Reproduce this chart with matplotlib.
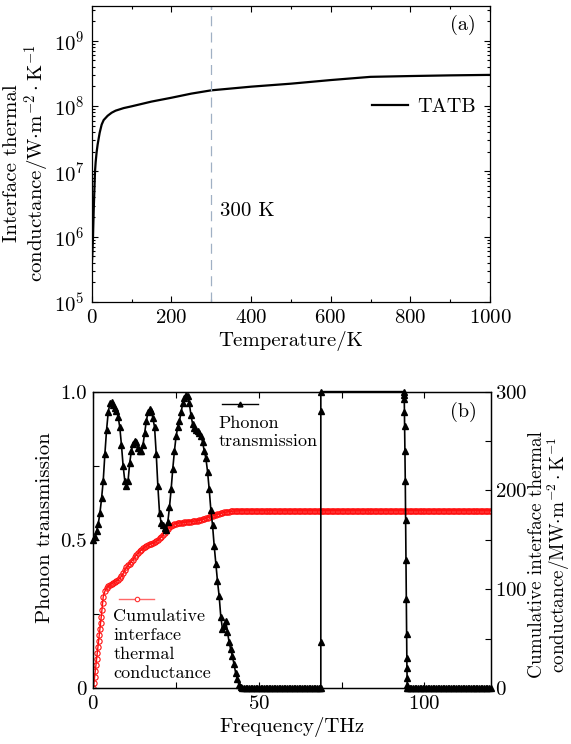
import numpy as np
import matplotlib
matplotlib.use("Agg")
import matplotlib.pyplot as plt
from matplotlib.ticker import LogLocator, MultipleLocator, NullFormatter

plt.rcParams['font.family'] = ['cmr10', 'DejaVu Serif']
plt.rcParams['mathtext.fontset'] = 'cm'
plt.rcParams['axes.unicode_minus'] = False
plt.rcParams['axes.formatter.use_mathtext'] = True
plt.rcParams['font.size'] = 15

# (a) interface thermal conductance vs temperature
temp = [0, 1, 2, 3.3, 5, 8.3, 10, 12.5, 15, 20, 25, 30, 40, 50, 60, 80, 100,
        150, 200, 250, 300, 400, 500, 600, 700, 800, 900, 1000]
itc = [3.7e5, 4.5e5, 6e5, 1e6, 2.5e6, 1e7, 1.4e7, 2e7, 2.6e7, 3.9e7, 5.2e7,
       6.1e7, 7.1e7, 7.9e7, 8.5e7, 9.3e7, 9.9e7, 1.17e8, 1.34e8, 1.55e8,
       1.74e8, 1.98e8, 2.2e8, 2.5e8, 2.8e8, 2.88e8, 2.95e8, 3.0e8]

# (b) phonon transmission
trans_freq_1 = np.arange(0, 45.5, 0.5)
trans_1 = [0.50, 0.51, 0.53, 0.555, 0.59, 0.64, 0.70, 0.79, 0.87, 0.93,
           0.96, 0.965, 0.955, 0.945, 0.935, 0.915, 0.88, 0.82, 0.75, 0.70,
           0.68, 0.70, 0.76, 0.80, 0.825, 0.835, 0.83, 0.81, 0.80, 0.80,
           0.82, 0.86, 0.90, 0.93, 0.94, 0.935, 0.91, 0.88, 0.79, 0.68,
           0.59, 0.556, 0.55, 0.54, 0.534, 0.56, 0.61, 0.67, 0.74, 0.80,
           0.85, 0.88, 0.90, 0.93, 0.96, 0.98, 0.99, 0.985, 0.96, 0.92,
           0.89, 0.876, 0.87, 0.868, 0.862, 0.85, 0.83, 0.80, 0.775, 0.73,
           0.67, 0.60, 0.55, 0.48, 0.42, 0.36, 0.31, 0.24, 0.20, 0.21,
           0.225, 0.19, 0.155, 0.13, 0.107, 0.08, 0.05, 0.03, 0.01, 0.002,
           0.0]
trans_freq_2 = np.arange(45.5, 69.0, 0.5)
trans_2 = [0.0] * len(trans_freq_2)
trans_freq_3 = [68.7, 68.7, 68.7, 68.7, 93.8, 93.85, 93.9, 93.95, 94.0, 94.1,
                94.2, 94.3, 94.4, 94.5, 94.6, 94.65, 94.7, 94.75, 94.8, 94.85]
trans_3 = [0.0, 0.156, 0.936, 1.0, 1.0, 0.99, 0.975, 0.93, 0.883, 0.80,
           0.70, 0.567, 0.433, 0.30, 0.183, 0.10, 0.067, 0.033, 0.01, 0.0]
trans_freq_4 = np.arange(95, 120.5, 0.5)
trans_4 = [0.0] * len(trans_freq_4)

trans_freq = np.concatenate([trans_freq_1, trans_freq_2, trans_freq_3, trans_freq_4])
trans = np.concatenate([trans_1, trans_2, trans_3, trans_4])

# (b) cumulative interface thermal conductance (MW m^-2 K^-1)
cum_freq_1 = np.arange(0, 3.1, 0.2)
cum_1 = [0, 5, 11, 17, 23, 29, 35, 41, 48, 54, 60, 66, 72, 79, 86, 92.5]
cum_freq_2 = np.arange(3.5, 46.5, 0.5)
cum_2 = [98, 101, 103, 104.5, 105.5, 106.5, 107.5, 108.5, 109.5, 111,
         113, 116, 119, 122, 124, 126, 128, 130, 132.5, 134.5,
         136.5, 138.5, 140, 141.5, 142.5, 143.5, 144.5, 145.5, 146, 146.5,
         147.5, 148.5, 150, 151.5, 153, 155, 157, 159, 161, 162.5,
         164, 165, 166, 166.5, 167, 167, 167.3, 167.5, 167.7, 168,
         168, 168.2, 168.4, 168.6, 168.8, 169, 169.3, 169.7, 170.1, 170.6,
         171.2, 171.8, 172.4, 173, 173.6, 174.2, 174.8, 175.4, 175.9, 176.4,
         176.9, 177.3, 177.7, 178, 178.3, 178.6, 178.8, 179, 179.1, 179.2,
         179.3, 179.4, 179.4, 179.5, 179.5, 179.5]
cum_freq_3 = np.arange(46.5, 120.5, 0.5)
cum_3 = [179.5] * len(cum_freq_3)
cum_freq = np.concatenate([cum_freq_1, cum_freq_2, cum_freq_3])
cum = np.concatenate([cum_1, cum_2, cum_3])

fig = plt.figure(figsize=(5.71, 7.44), dpi=100)

# ---------------- (a) ----------------
ax1 = fig.add_axes([0.1606, 0.5941, 0.6976, 0.3978])
ax1.plot(temp, itc, color='black', lw=1.6, label='TATB')
ax1.axvline(300, color='#a0b0c4', lw=0.9, ls=(0, (8, 5)))
ax1.set_yscale('log')
ax1.set_xlim(0, 1000)
ax1.set_ylim(1e5, 3.4e9)
ax1.xaxis.set_major_locator(MultipleLocator(200))
ax1.xaxis.set_minor_locator(MultipleLocator(100))
ax1.yaxis.set_major_locator(LogLocator(base=10, numticks=10))
ax1.yaxis.set_minor_locator(LogLocator(base=10, subs=np.arange(2, 10), numticks=20))
ax1.yaxis.set_minor_formatter(NullFormatter())
ax1.tick_params(which='both', direction='in', top=True, right=True, width=0.8)
ax1.tick_params(which='major', length=4.5, pad=5)
ax1.tick_params(which='minor', length=2.5)
ax1.set_xlabel('Temperature/K', labelpad=3)
ax1.set_ylabel('Interface thermal\nconductance/W$\\cdot$m$^{-2}\\cdot$K$^{-1}$',
               linespacing=1.1)
ax1.yaxis.set_label_coords(-0.1, 0.47)
ax1.text(321, 2.5e6, '300 K', va='center', ha='left')
ax1.text(0.931, 0.936, '(a)', transform=ax1.transAxes, ha='center', va='center',
         fontsize=14.5)
ax1.legend(loc='center left', bbox_to_anchor=(0.703, 0.658), frameon=False,
           borderpad=0, borderaxespad=0, handlelength=1.8, handletextpad=0.45,
           fontsize=14.5)
for s in ax1.spines.values():
    s.set_linewidth(0.9)

# ---------------- (b) ----------------
ax2 = fig.add_axes([0.1634, 0.0753, 0.696, 0.3983])
ax3 = ax2.twinx()
ax2.plot(trans_freq, trans, color='black', lw=1.2, marker='^', ms=4.0,
         mec='black', mfc='black', zorder=3, clip_on=False)
ax3.plot(cum_freq, cum, color='#ff1010', lw=1.0, marker='o', ms=3.8,
         mfc='none', mec='#ff1010', mew=0.8)
ax2.set_zorder(ax3.get_zorder() + 1)
ax2.patch.set_visible(False)

ax2.set_xlim(0, 120)
ax2.set_ylim(0, 1.0)
ax3.set_ylim(0, 300)
ax2.set_xticks([0, 50, 100])
ax2.xaxis.set_minor_locator(MultipleLocator(25))
ax2.set_yticks([0, 0.5, 1.0])
ax2.set_yticklabels(['0', '0.5', '1.0'])
ax2.yaxis.set_minor_locator(MultipleLocator(0.25))
ax3.set_yticks([0, 100, 200, 300])
ax3.yaxis.set_minor_locator(MultipleLocator(50))
ax2.tick_params(which='both', direction='in', top=True, width=0.8)
ax2.tick_params(which='major', length=4.5, pad=5)
ax2.tick_params(which='minor', length=4.5)
ax3.tick_params(which='both', direction='in', width=0.8, length=4.5, pad=3)
ax2.set_xlabel('Frequency/THz', labelpad=3)
ax2.set_ylabel('Phonon transmission')
ax2.yaxis.set_label_coords(-0.1, 0.54)
ax3.set_ylabel('Cumulative interface thermal\nconductance/MW$\\cdot$m$^{-2}\\cdot$K$^{-1}$',
               linespacing=1.0, fontsize=13.8)
ax3.yaxis.set_label_coords(1.093, 0.45)
ax2.text(0.931, 0.9325, '(b)', transform=ax2.transAxes, ha='center', va='center',
         fontsize=14.5)

# legend-like annotations, handle above the text
ax2.plot([0.323, 0.415], [0.9575, 0.9575], transform=ax2.transAxes, color='black',
         lw=1.0, clip_on=False)
ax2.plot([0.369], [0.9575], transform=ax2.transAxes, marker='^', ms=3.5,
         color='black', clip_on=False)
ax2.text(0.3146, 0.893, 'Phonon', transform=ax2.transAxes, ha='left',
         va='center', fontsize=13)
ax2.text(0.3146, 0.831, 'transmission', transform=ax2.transAxes, ha='left',
         va='center', fontsize=13)

ax2.plot([0.0654, 0.1527], [0.2993, 0.2993], transform=ax2.transAxes,
         color='#ff6868', lw=1.0)
ax2.plot([0.109], [0.2993], transform=ax2.transAxes, marker='o', ms=3.2,
         mfc='white', mec='#ff3030', mew=0.8)
for txt, yy in zip(['Cumulative', 'interface', 'thermal', 'conductance'],
                   [0.243, 0.179, 0.1147, 0.0506]):
    ax2.text(0.0503, yy, txt, transform=ax2.transAxes, ha='left', va='center',
             fontsize=13)

for a in (ax2, ax3):
    for s in a.spines.values():
        s.set_linewidth(0.9)

fig.savefig('out.png', dpi=100)
